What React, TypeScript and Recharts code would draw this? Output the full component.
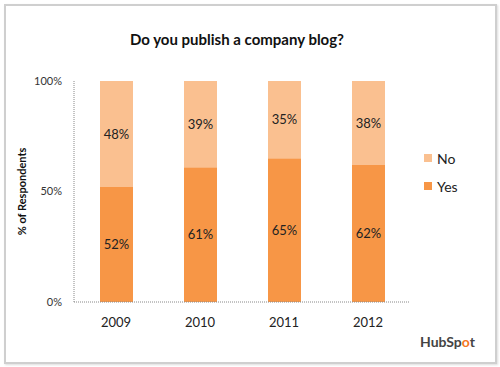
import { BarChart, Bar, XAxis, YAxis, LabelList } from "recharts";

const years = ["2009", "2010", "2011", "2012"];
const yesValues = [52, 61, 65, 62];
const noValues = [48, 39, 35, 38];
const yTicks = [0, 50, 100];

const YES_COLOR = "#F79646";
const NO_COLOR = "#FAC090";

const data = years.map((year, i) => ({ year, Yes: yesValues[i], No: noValues[i] }));

const FONT = "Lato, 'Open Sans', sans-serif";

const legendItems = [
  { name: "No", color: NO_COLOR },
  { name: "Yes", color: YES_COLOR },
];

export default function App() {
  return (
    <div style={{ position: "absolute", left: 0, top: 0, width: 500, height: 367, background: "#fff" }}>
      <div
        style={{
          position: "absolute",
          left: 4,
          top: 4,
          width: 489,
          height: 356,
          border: "2px solid #cfcfcf",
          boxShadow: "1px 1px 2px #ddd",
        }}
      />
      <div
        style={{
          position: "absolute",
          left: 0,
          width: 474,
          top: 30,
          textAlign: "center",
          fontFamily: FONT,
          fontWeight: 700,
          fontSize: 15,
          color: "#111",
        }}
      >
        Do you publish a company blog?
      </div>
      <div style={{ position: "absolute", left: 0, top: 0 }}>
        <BarChart width={500} height={367} data={data} margin={{ top: 81, right: 90, bottom: 35, left: 29 }}>
          <XAxis
            dataKey="year"
            axisLine={{ stroke: "#888", strokeDasharray: "1 1" }}
            tickLine={false}
            tick={{ fontSize: 13, fill: "#222", fontFamily: FONT }}
            tickMargin={10}
          />
          <YAxis
            width={45}
            domain={[0, 100]}
            ticks={yTicks}
            tickFormatter={(v) => `${v}%`}
            axisLine={{ stroke: "#888", strokeDasharray: "1 1" }}
            tickLine={false}
            tick={{ fontSize: 11, fill: "#333", fontFamily: FONT }}
            tickMargin={6}
            label={{
              value: "% of Respondents",
              angle: -90,
              position: "insideLeft",
              offset: -7,
              style: { fontSize: 11, fontWeight: 700, fill: "#111", fontFamily: FONT, textAnchor: "middle" },
            }}
          />
          <Bar dataKey="Yes" stackId="a" fill={YES_COLOR} barSize={33} isAnimationActive={false}>
            <LabelList dataKey="Yes" position="center" formatter={(v: any) => `${v}%`} style={{ fontSize: 13, fill: "#222", fontFamily: FONT }} />
          </Bar>
          <Bar dataKey="No" stackId="a" fill={NO_COLOR} barSize={33} isAnimationActive={false}>
            <LabelList dataKey="No" position="center" formatter={(v: any) => `${v}%`} style={{ fontSize: 13, fill: "#222", fontFamily: FONT }} />
          </Bar>
        </BarChart>
      </div>
      <div style={{ position: "absolute", left: 424, top: 144, fontFamily: FONT, fontSize: 14, color: "#222" }}>
        {legendItems.map((it) => (
          <div key={it.name} style={{ display: "flex", alignItems: "center", height: 28 }}>
            <span style={{ width: 8, height: 8, background: it.color, marginRight: 5 }} />
            {it.name}
          </div>
        ))}
      </div>
      <div
        style={{
          position: "absolute",
          left: 420,
          top: 333,
          fontFamily: FONT,
          fontWeight: 700,
          fontSize: 14,
          color: "#444",
        }}
      >
        HubSp<span style={{ color: "#F57722" }}>o</span>t
      </div>
    </div>
  );
}
